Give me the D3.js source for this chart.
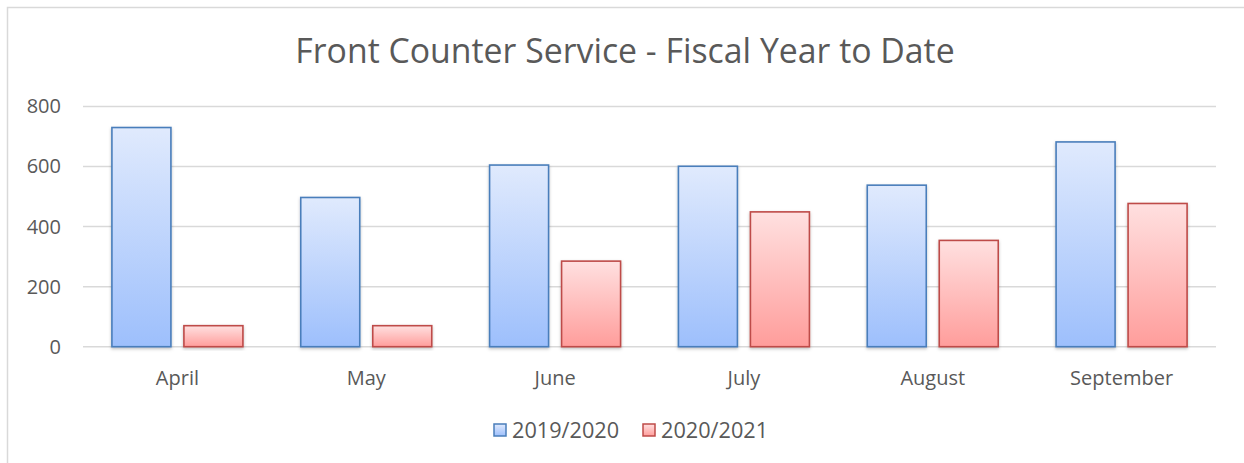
<!DOCTYPE html>
<html>
<head>
<meta charset="utf-8">
<script src="https://cdn.jsdelivr.net/npm/d3@7"></script>
<style>
  body { margin: 0; background: #fff; }
  #canvas { width: 1244px; height: 463px; }
  text { font-family: "Open Sans", "Noto Sans", sans-serif; fill: #595959; }
</style>
</head>
<body>
<div id="canvas"></div>
<script>
(function () {
  var months = ['April', 'May', 'June', 'July', 'August', 'September'];
  var seriesNames = ['2019/2020', '2020/2021'];
  var values2019 = [730, 497, 605, 601, 538, 682];
  var values2020 = [70, 70, 285, 449, 354, 477];
  var yTicks = [0, 200, 400, 600, 800];

  var width = 1244, height = 463;
  var plotLeft = 83, plotRight = 1216, plotTop = 106.5, plotBottom = 346.7;

  var svg = d3.select('#canvas').append('svg')
        .attr('width', width)
        .attr('height', height);

  var defs = svg.append('defs');
  var styles = [
    { id: 'gBlue', top: '#e0eafd', bottom: '#9dbffc', stroke: '#4a7ebb' },
    { id: 'gRed', top: '#ffe0e0', bottom: '#ff9d9b', stroke: '#be4b48' }
  ];
  styles.forEach(function (s) {
    var g = defs.append('linearGradient').attr('id', s.id)
      .attr('x1', 0).attr('y1', 0).attr('x2', 0).attr('y2', 1);
    g.append('stop').attr('offset', '0%').attr('stop-color', s.top);
    g.append('stop').attr('offset', '100%').attr('stop-color', s.bottom);
  });
  var f = defs.append('filter').attr('id', 'shadow')
    .attr('x', '-20%').attr('y', '-20%').attr('width', '140%').attr('height', '140%');
  f.append('feDropShadow').attr('dx', 0).attr('dy', 1.5).attr('stdDeviation', 1.5)
    .attr('flood-color', '#000').attr('flood-opacity', 0.25);

  // chart frame (runs off the right and bottom edge)
  svg.append('rect')
    .attr('x', 7.5).attr('y', 7.5)
    .attr('width', 1300).attr('height', 500)
    .attr('fill', 'none').attr('stroke', '#d9d9d9').attr('stroke-width', 1.5);

  svg.append('text')
    .attr('x', 625).attr('y', 63)
    .attr('text-anchor', 'middle')
    .style('font-size', '33.8px')
    .text('Front Counter Service - Fiscal Year to Date');

  var x = d3.scaleBand().domain(months).range([plotLeft, plotRight]);
  var y = d3.scaleLinear().domain([0, 800]).range([plotBottom, plotTop]);

  // gridlines
  svg.selectAll('.grid').data(yTicks).enter().append('line')
    .attr('x1', plotLeft).attr('x2', plotRight)
    .attr('y1', function (d) { return y(d); })
    .attr('y2', function (d) { return y(d); })
    .attr('stroke', '#d9d9d9').attr('stroke-width', 1.5);

  var yAxis = svg.append('g')
    .attr('transform', 'translate(' + (plotLeft - 22) + ',0)')
    .call(d3.axisLeft(y).tickValues(yTicks).tickSize(0).tickPadding(0));
  yAxis.select('.domain').remove();
  yAxis.selectAll('text').style('font-size', '20px').attr('fill', '#595959')
    .style('font-family', '"Open Sans", "Noto Sans", sans-serif');

  var xAxis = svg.append('g')
    .attr('transform', 'translate(0,' + plotBottom + ')')
    .call(d3.axisBottom(x).tickSize(0).tickPadding(24));
  xAxis.select('.domain').remove();
  xAxis.selectAll('text').style('font-size', '20px').attr('fill', '#595959')
    .style('font-family', '"Open Sans", "Noto Sans", sans-serif');

  var barW = 59, gap = 13;
  var series = [values2019, values2020];
  series.forEach(function (vals, si) {
    svg.selectAll('.bar' + si).data(vals).enter().append('rect')
      .attr('class', 'bar' + si)
      .attr('x', function (d, i) {
        var c = x(months[i]) + x.bandwidth() / 2;
        return si === 0 ? c - gap / 2 - barW : c + gap / 2;
      })
      .attr('y', function (d) { return y(d); })
      .attr('width', barW)
      .attr('height', function (d) { return y(0) - y(d); })
      .attr('fill', 'url(#' + styles[si].id + ')')
      .attr('stroke', styles[si].stroke)
      .attr('stroke-width', 1.6)
      .attr('filter', 'url(#shadow)');
  });

  // legend
  var legendX = [494, 643];
  var legend = svg.selectAll('.legend').data(seriesNames).enter().append('g')
    .attr('transform', function (d, i) { return 'translate(' + legendX[i] + ',424)'; });
  legend.append('rect')
    .attr('width', 12).attr('height', 12)
    .attr('fill', function (d, i) { return 'url(#' + styles[i].id + ')'; })
    .attr('stroke', function (d, i) { return styles[i].stroke; })
    .attr('stroke-width', 1.5);
  legend.append('text')
    .attr('x', 18).attr('y', 14)
    .style('font-size', '21.7px')
    .text(function (d) { return d; });
})();
</script>
</body>
</html>
